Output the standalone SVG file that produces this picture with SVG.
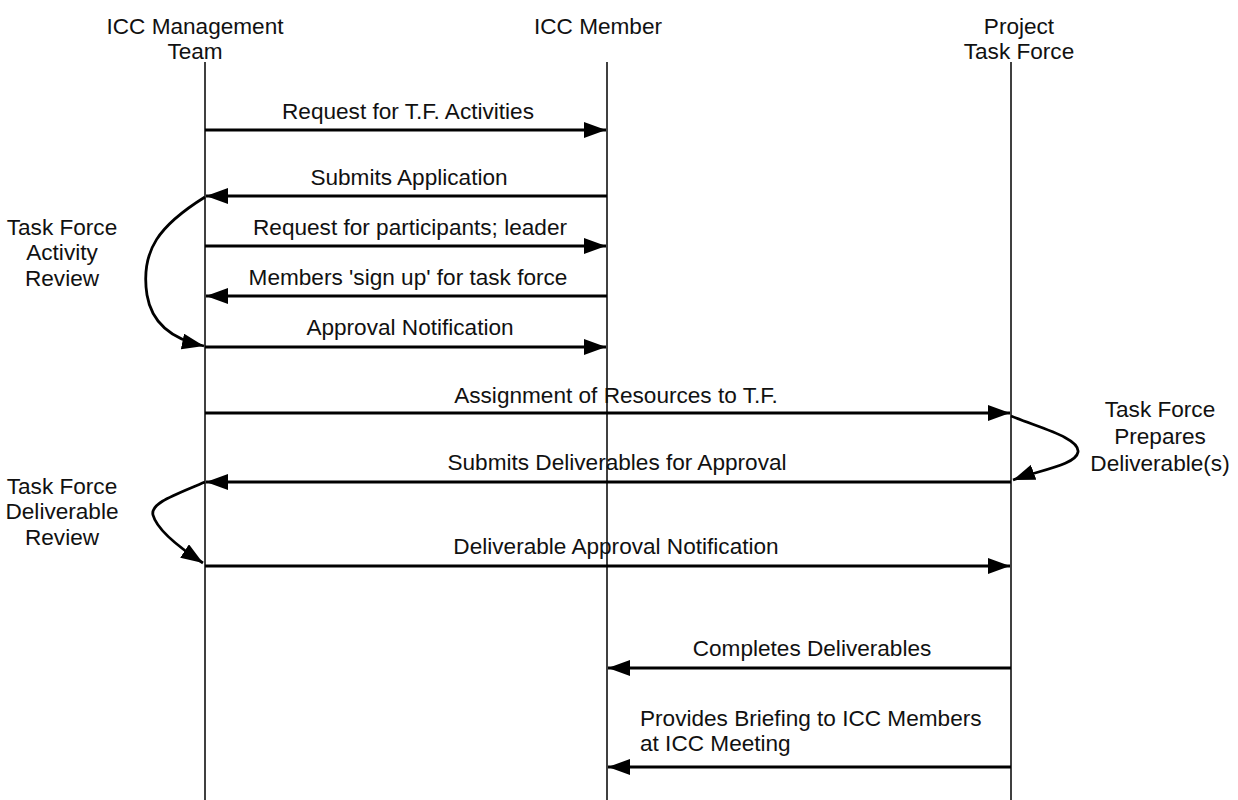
<svg xmlns="http://www.w3.org/2000/svg" width="1238" height="800" viewBox="0 0 1238 800">
<defs>
<marker id="ah" viewBox="0 0 22 16" refX="22" refY="8" markerWidth="22" markerHeight="16" markerUnits="userSpaceOnUse" orient="auto">
<path d="M0,0 L22,8 L0,16 Z" fill="#000"/>
</marker>
<style>
text{font-family:"Liberation Sans",Arial,sans-serif;font-size:22.6px;fill:#111;text-anchor:middle}
.life{stroke:#000;stroke-width:1.5;fill:none}
.msg{stroke:#000;stroke-width:2.8;fill:none;marker-end:url(#ah)}
</style>
</defs>
<rect width="1238" height="800" fill="#fff"/>
<g id="mgmt">
<text x="195" y="34">ICC Management</text>
<text x="195" y="59">Team</text>
<line class="life" x1="205" y1="62" x2="205" y2="800"/>
</g>
<g id="member">
<text x="598" y="34">ICC Member</text>
<line class="life" x1="607" y1="62" x2="607" y2="800"/>
</g>
<g id="taskforce">
<text x="1019" y="34">Project</text>
<text x="1019" y="59">Task Force</text>
<line class="life" x1="1011" y1="62" x2="1011" y2="800"/>
</g>
<g id="note-activity">
<text x="62" y="235">Task Force</text>
<text x="62" y="260">Activity</text>
<text x="62" y="286">Review</text>
</g>
<g id="note-deliverable">
<text x="62" y="494">Task Force</text>
<text x="62" y="519">Deliverable</text>
<text x="62" y="545">Review</text>
</g>
<g id="note-prepares">
<text x="1160" y="417">Task Force</text>
<text x="1160" y="444">Prepares</text>
<text x="1160" y="471">Deliverable(s)</text>
</g>
<g id="connectors">
<line class="msg" x1="205" y1="130" x2="606" y2="130"/>
<text x="408" y="119">Request for T.F. Activities</text>
<line class="msg" x1="607" y1="196" x2="206" y2="196"/>
<text x="409" y="185">Submits Application</text>
<line class="msg" x1="205" y1="246" x2="606" y2="246"/>
<text x="410" y="235">Request for participants; leader</text>
<line class="msg" x1="607" y1="296" x2="206" y2="296"/>
<text x="408" y="285">Members 'sign up' for task force</text>
<line class="msg" x1="205" y1="347" x2="606" y2="347"/>
<text x="410" y="335">Approval Notification</text>
<line class="msg" x1="205" y1="413" x2="1010" y2="413"/>
<text x="616" y="403">Assignment of Resources to T.F.</text>
<line class="msg" x1="1011" y1="482" x2="206" y2="482"/>
<text x="617" y="470">Submits Deliverables for Approval</text>
<line class="msg" x1="205" y1="566" x2="1010" y2="566"/>
<text x="616" y="554">Deliverable Approval Notification</text>
<line class="msg" x1="1011" y1="668" x2="608" y2="668"/>
<text x="812" y="656">Completes Deliverables</text>
<line class="msg" x1="1011" y1="767" x2="608" y2="767"/>
<text x="640" y="726" style="text-anchor:start">Provides Briefing to ICC Members</text>
<text x="640" y="751" style="text-anchor:start">at ICC Meeting</text>
<path class="msg" d="M205,197 C160,225 140,250 147,295 C152,325 175,340 204,346"/>
<path class="msg" d="M205,482 C175,495 150,503 153,515 C157,530 180,548 203,563"/>
<path class="msg" d="M1011,416 C1040,428 1080,438 1078,452 C1076,465 1040,470 1013,480"/>
</g>
</svg>
